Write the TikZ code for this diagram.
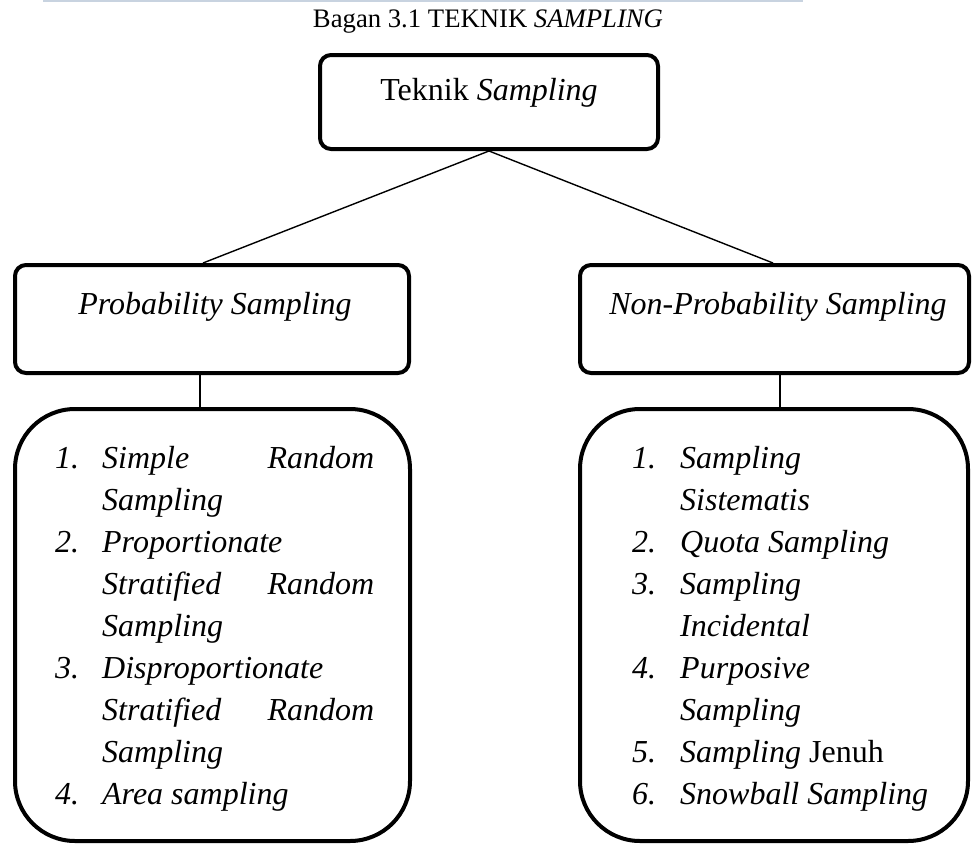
\documentclass[tikz,border=0pt]{standalone}
\usepackage{fontspec}
\setmainfont{LiberationSerif}[Extension=.ttf,UprightFont=*-Regular,ItalicFont=*-Italic,BoldFont=*-Bold,BoldItalicFont=*-BoldItalic]
\usepackage{array}
\usetikzlibrary{calc}
\definecolor{scanbar}{RGB}{200,211,224}
\tikzset{
  box/.style={draw=black, line width=4pt, rounded corners=11pt, inner sep=0pt, fill=white},
  bigbox/.style={draw=black, line width=4pt, rounded corners=60pt, inner sep=0pt, fill=white},
  conn/.style={draw=black, line width=1.4pt},
  lbl/.style={inner sep=0pt, font=\fontsize{32}{42}\selectfont},
  ttl/.style={inner sep=0pt, font=\fontsize{26.7}{32}\selectfont},
}
\begin{document}
\begin{tikzpicture}[x=1pt,y=-1pt]
\useasboundingbox (0,0) rectangle (972,846);
\fill[scanbar] (43,0) rectangle (803,2);
% title
\node[ttl, anchor=base] (title) at (488,27) {Bagan 3.1 TEKNIK \textit{SAMPLING}};
% boxes
\node[box, minimum width=338pt, minimum height=94pt] (top) at (489,102) {};
\node[box, minimum width=394pt, minimum height=108pt] (pl) at (212,319) {};
\node[box, minimum width=389pt, minimum height=108pt] (npl) at (774.5,319) {};
\node[bigbox, minimum width=395pt, minimum height=432pt] (ll) at (212.5,625) {};
\node[bigbox, minimum width=388pt, minimum height=432pt] (nl) at (774,625) {};
% connectors
\draw[conn] (top.south) -- ([xshift=-9pt]pl.north);
\draw[conn] (top.south) -- ([xshift=-1.5pt]npl.north);
\draw[conn] ([xshift=-12pt]pl.south) -- ([xshift=-12.5pt]ll.north);
\draw[conn] ([xshift=5.5pt]npl.south) -- ([xshift=6pt]nl.north);
% box texts
\node[lbl, anchor=base] (toptext) at (489,100) {Teknik \textit{Sampling}};
\node[lbl, anchor=base] (pltext) at (215,314) {\textit{Probability Sampling}};
\node[lbl, anchor=base] (npltext) at (778,314) {\textit{Non-Probability Sampling}};
% lists
\node[lbl, anchor=base west] (lltext) at (55,468) {%
\renewcommand{\arraystretch}{1}%
\begin{tabular}[t]{@{}p{47pt}@{}p{272pt}@{}}
\textit{1.} & \textit{Simple}\hfill\textit{Random}\\
 & \textit{Sampling}\\
\textit{2.} & \textit{Proportionate}\\
 & \textit{Stratified}\hfill\textit{Random}\\
 & \textit{Sampling}\\
\textit{3.} & \textit{Disproportionate}\\
 & \textit{Stratified}\hfill\textit{Random}\\
 & \textit{Sampling}\\
\textit{4.} & \textit{Area sampling}
\end{tabular}};
\node[lbl, anchor=base west] (nltext) at (632,468) {%
\renewcommand{\arraystretch}{1}%
\begin{tabular}[t]{@{}p{48pt}@{}p{262pt}@{}}
\textit{1.} & \textit{Sampling}\\
 & \textit{Sistematis}\\
\textit{2.} & \textit{Quota Sampling}\\
\textit{3.} & \textit{Sampling}\\
 & \textit{Incidental}\\
\textit{4.} & \textit{Purposive}\\
 & \textit{Sampling}\\
\textit{5.} & \textit{Sampling} Jenuh\\
\textit{6.} & \textit{Snowball Sampling}
\end{tabular}};
\end{tikzpicture}
\end{document}
